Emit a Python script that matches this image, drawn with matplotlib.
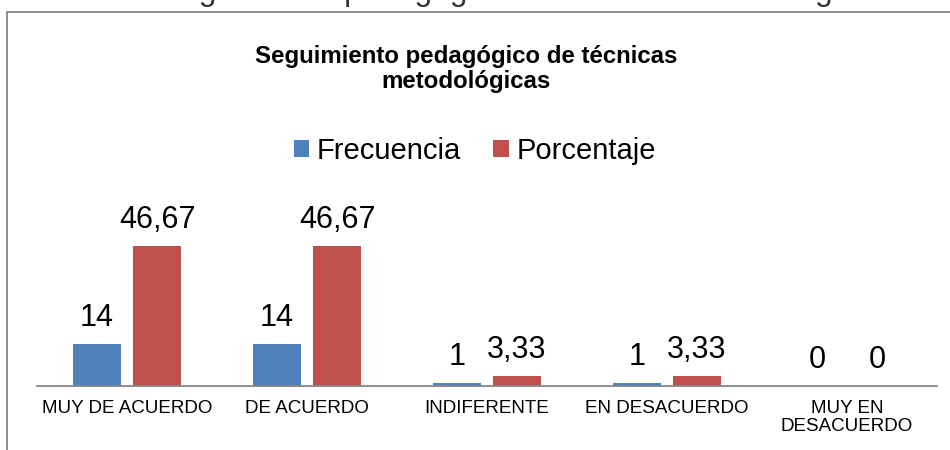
import numpy as np
import matplotlib
matplotlib.use('Agg')
import matplotlib.pyplot as plt
from matplotlib.patches import Rectangle

plt.rcParams['font.family'] = ['Liberation Sans', 'DejaVu Sans']

categorias = ['MUY DE ACUERDO', 'DE ACUERDO', 'INDIFERENTE', 'EN DESACUERDO', 'MUY EN\nDESACUERDO']
frecuencia = [14, 14, 1, 1, 0]
porcentaje = [46.67, 46.67, 3.33, 3.33, 0]
titulo = 'Seguimiento pedagógico de técnicas\nmetodológicas'
titulo_externo = 'Seguimiento pedagógico de técnicas metodológicas'

azul = '#4F81BD'
rojo = '#C0504D'


def fmt(v):
    if v == int(v):
        return str(int(v))
    return f'{v:.2f}'.replace('.', ',')


fig = plt.figure(figsize=(9.5, 4.5), dpi=100)
ax = fig.add_axes([37 / 950, 64 / 450, 900 / 950, 150 / 450])

x = np.arange(len(categorias))
w = 0.267
b1 = ax.bar(x - 0.167, frecuencia, w, color=azul, label='Frecuencia')
b2 = ax.bar(x + 0.167, porcentaje, w, color=rojo, label='Porcentaje')

for barras, vals in [(b1, frecuencia), (b2, porcentaje)]:
    for r, v in zip(barras, vals):
        ax.annotate(fmt(v), (r.get_x() + r.get_width() / 2, r.get_height()),
                    xytext=(0, 13), textcoords='offset points',
                    ha='center', va='baseline', fontsize=22, annotation_clip=False)

ax.set_xlim(-0.5, len(categorias) - 0.5)
ax.set_ylim(0, 50)
ax.set_yticks([])
ax.set_xticks(x)
ax.set_xticklabels(categorias, fontsize=13.5, linespacing=1.05)
ax.tick_params(axis='x', length=0, pad=10)
for s in ['top', 'right', 'left']:
    ax.spines[s].set_visible(False)
ax.spines['bottom'].set_color('#868686')
ax.spines['bottom'].set_linewidth(1.3)
ax.patch.set_alpha(0)

# titulo del grafico (la linea base es la de la ultima linea)
fig.text(466 / 950, 1 - 88 / 450, titulo, ha='center', va='baseline',
         fontsize=17.3, fontweight='bold', linespacing=1.1)

fig.legend(handles=[b1, b2], loc='center', bbox_to_anchor=(0.5, 1 - 151 / 450),
           ncol=2, frameon=False, fontsize=21, handlelength=0.52, handleheight=0.52,
           handletextpad=0.28, columnspacing=1.1, borderpad=0)

# marco del grafico y titulo recortado arriba
fig.add_artist(Rectangle((7 / 950, -0.1), 1.2, 1.1 - 12 / 450, transform=fig.transFigure,
                         fill=False, edgecolor='#868686', linewidth=1.3))
t_ext = fig.text(524 / 950, 1 + 0 / 450, titulo_externo, ha='center', va='baseline',
                 fontsize=21, color='#333333',
                 family=['Liberation Sans Narrow', 'Liberation Sans'])
# ajustar el tamaño para que ocupe ~728 px de ancho como en la imagen original
r = fig.canvas.get_renderer()
ancho = t_ext.get_window_extent(r).width
t_ext.set_fontsize(21 * 728 / ancho)

fig.savefig('out.png', dpi=100)
